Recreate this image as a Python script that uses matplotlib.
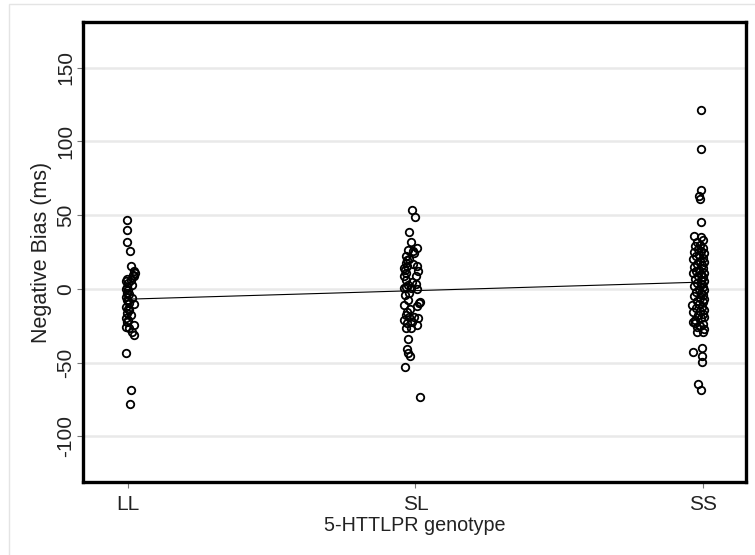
import numpy as np
import matplotlib
matplotlib.use("Agg")
import matplotlib.pyplot as plt
from matplotlib.patches import Rectangle

plt.rcParams["font.family"] = ["Liberation Sans", "DejaVu Sans"]
plt.rcParams["axes.unicode_minus"] = False

genotypes = ["LL", "SL", "SS"]

# negative bias (ms) per genotype group, with the horizontal jitter of each point
ll_bias = [46.4, 39.6, 31.5, 26.0, 15.2, 12.0, 10.6, 9.5, 8.8, 7.0, 6.1, 5.0, 4.0,
           2.7, 1.5, -0.2, -1.0, -2.5, -3.5, -5.2, -6.0, -7.5, -8.5, -9.7, -10.2,
           -12.5, -13.5, -14.3, -16.5, -17.7, -19.9, -21.1, -22.2, -24.5, -25.6,
           -26.7, -29.0, -31.3, -43.7, -68.6, -78.1]
ll_jit = [-0.003, -0.003, -0.003, 0.007, 0.010, 0.021, 0.024, 0.017, 0.021, -0.003,
          0.010, -0.007, 0.000, 0.014, -0.003, -0.007, 0.000, -0.003, 0.003, -0.007,
          0.014, -0.003, 0.000, 0.003, 0.021, -0.007, 0.000, 0.003, -0.003, 0.010,
          -0.007, 0.000, -0.003, 0.021, -0.007, 0.003, 0.014, 0.021, -0.007, 0.010,
          0.007]

sl_bias = [53.2, 48.7, 38.3, 32.1, 26.5, 26.0, 27.6, 24.2, 22.0, 20.5, 19.7, 17.4,
           17.0, 15.2, 15.2, 14.0, 12.9, 11.8, 10.5, 8.4, 8.4, 6.1, 4.5, 3.0, 2.7,
           1.5, 0.5, 0.5, 0.0, -2.5, -4.0, -7.5, -8.6, -9.7, -10.9, -11.5, -13.5,
           -15.4, -17.7, -18.8, -19.2, -20.0, -21.1, -22.2, -23.3, -24.5, -26.7,
           -26.7, -34.2, -41.0, -43.7, -45.5, -52.8, -73.6]
sl_jit = [-0.010, -0.001, -0.022, -0.016, -0.024, -0.008, 0.007, -0.005, -0.031,
          -0.021, -0.030, -0.034, -0.007, -0.028, 0.005, -0.038, -0.036, 0.010,
          -0.031, 0.001, -0.039, -0.031, -0.010, 0.003, -0.024, -0.031, -0.039,
          -0.016, 0.007, -0.021, -0.035, -0.024, 0.015, 0.013, -0.039, 0.007,
          -0.017, -0.030, -0.034, -0.005, -0.022, 0.010, -0.039, -0.010, -0.028,
          0.005, -0.016, -0.034, -0.025, -0.030, -0.025, -0.018, -0.037, 0.016]

ss_bias = [121.6, 95.1, 67.3, 63.2, 61.1, 45.3, 36.0, 35.5, 33.0, 31.5,
           30, 29, 28, 27, 26, 25, 24, 23, 22, 21, 20, 19, 18, 17, 16, 15, 14, 13,
           12, 11, 10.8, 10, 9, 8, 7, 6, 5, 4, 3, 2, 1, 0, -1, -2, -3, -4, -5, -6,
           -7, -8, -9, -10, -10.9, -12, -13, -14, -15, -16, -17, -18, -19, -20,
           -21, -22.6, -23, -24, -25, -26, -27, -29, -29.5,
           -40.0, -43.0, -45.5, -49.4, -64.5, -68.6]
ss_jit = [-0.005, -0.008, -0.005, -0.014, -0.010, -0.005, -0.030, -0.005, -0.001,
          -0.022,
          -0.010, -0.028, 0.000, -0.017, -0.007, -0.031, 0.003, -0.014, -0.024,
          0.000, -0.035, -0.010, 0.003, -0.021, -0.003, -0.031, 0.000, -0.014,
          -0.024, 0.003, -0.035, -0.007, -0.017, 0.000, -0.028, -0.007, 0.003,
          -0.021, -0.003, -0.031, 0.000, -0.014, 0.003, -0.024, -0.007, 0.000,
          -0.031, -0.010, 0.003, -0.021, 0.000, -0.014, -0.038, -0.003, -0.024,
          0.003, -0.010, -0.035, 0.000, -0.017, 0.003, -0.007, -0.028, -0.035,
          -0.028, 0.000, -0.010, -0.021, 0.003, -0.021, 0.000,
          -0.003, -0.035, -0.003, -0.003, -0.017, -0.007]

# linear fit drawn across the genotype range
fit_x = [1, 3]
fit_y = [-7.0, 4.6]

fig = plt.figure(figsize=(7.55, 5.55), dpi=100)
fig.patches.append(Rectangle((9 / 755, -0.05), 1.1, 1.043, transform=fig.transFigure,
                             fill=False, edgecolor="#e4e4e4", lw=1))
ax = fig.add_axes([83 / 755, 1 - 482 / 555, 663 / 755, 460 / 555])

groups = [ll_bias, sl_bias, ss_bias]
jitters = [ll_jit, sl_jit, ss_jit]
for i, (vals, jit) in enumerate(zip(groups, jitters)):
    xs = i + 1 + np.array(jit)
    ax.plot(xs, vals, "o", ls="none", ms=5.4, mfc="none", mec="black", mew=1.3,
            zorder=3)

ax.plot(fit_x, fit_y, color="black", lw=0.8, zorder=2)

ax.set_xlim(0.844, 3.15)
ax.set_ylim(-131, 181)
ax.set_xticks([1, 2, 3])
ax.set_xticklabels(genotypes)
ax.set_yticks([-100, -50, 0, 50, 100, 150])
ax.yaxis.grid(True, color="#e9e9e9", lw=1.8)
ax.set_axisbelow(True)

for s in ax.spines.values():
    s.set_linewidth(2.4)
    s.set_color("black")

ax.tick_params(axis="both", color="#777777", length=4.5, width=0.8,
               labelsize=15, labelcolor="#222222")
ax.tick_params(axis="y", pad=1)
ax.tick_params(axis="x", pad=5)
for lab in ax.get_yticklabels():
    lab.set_rotation(90)
    lab.set_va("center")

ax.set_ylabel("Negative Bias (ms)", fontsize=15.5, color="#222222", labelpad=3)
ax.set_xlabel("5-HTTLPR genotype", fontsize=14.2, color="#222222", labelpad=1)

fig.savefig("out.png", dpi=100)
